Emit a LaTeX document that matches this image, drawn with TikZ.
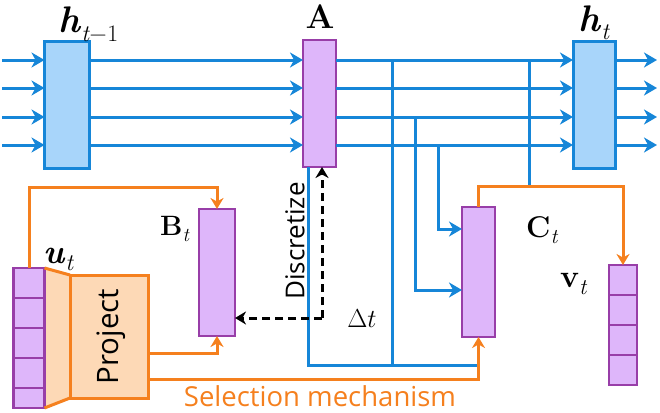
\RequirePackage{fix-cm}
\documentclass[tikz,border=0pt]{standalone}
\usepackage{amsmath}
\usepackage{amssymb}
\usepackage{fontspec}
\setsansfont{Open Sans}
\usetikzlibrary{positioning,calc,arrows.meta,backgrounds}
\definecolor{lineblue}{RGB}{22,134,216}
\definecolor{stateblue}{RGB}{168,213,250}
\definecolor{boxpurple}{RGB}{222,182,250}
\definecolor{edgepurple}{RGB}{152,62,168}
\definecolor{selorange}{RGB}{245,128,30}
\definecolor{projorange}{RGB}{253,217,182}
\newcommand{\lowsub}[2][0.7]{\raisebox{-0.22em}{\scalebox{#1}{\mdseries\itshape #2}}}
\tikzset{
	state/.style = {draw=lineblue, fill=stateblue, line width=3pt, minimum width=45pt, minimum height=126pt, inner sep=0, outer sep=0},
	param/.style = {draw=edgepurple, fill=boxpurple, line width=2.8pt, minimum width=33pt, minimum height=127pt, inner sep=0, outer sep=0},
	cell/.style = {draw=edgepurple, fill=boxpurple, line width=2.8pt, minimum width=31pt, minimum height=30pt, inner sep=0, outer sep=0},
	projbox/.style = {draw=selorange, fill=projorange, line width=3pt, minimum width=78pt, minimum height=123pt, inner sep=0, outer sep=0},
	flow/.style = {draw=lineblue, line width=3pt},
	flowarrow/.style = {flow, -{Stealth[length=13pt,width=15pt,inset=4pt]}},
	sel/.style = {draw=selorange, line width=3pt},
	selarrow/.style = {sel, -{Stealth[length=11pt,width=13pt,inset=3.5pt]}},
	disc/.style = {draw=black, line width=3pt, dash pattern=on 8pt off 5pt, -{Stealth[length=11pt,width=13pt,inset=3.5pt]}},
	mathlabel/.style = {inner sep=0},
	textlabel/.style = {font=\sffamily\fontsize{26}{30}\selectfont, inner sep=0}
}

\begin{document}
\begin{tikzpicture}[x=1pt, y=-1pt]
	\useasboundingbox (0,0) rectangle (660,412);

	% states and parameters
	\node [state] (hprev) at (67,105) {};
	\node [param] (A) at (319.5,103.5) {};
	\node [state, minimum width=42pt] (hcur) at (594,105) {};
	\node [param, minimum width=36pt] (B) at (217,272.5) {};
	\node [param, minimum height=130pt] (C) at (478.5,272) {};
	\node [projbox] (proj) at (109,336.5) {};
	\node [textlabel, font=\sffamily\fontsize{29.5}{32}\selectfont, rotate=90, yshift=-2pt] (projlbl) at (proj.center) {Project};

	% input and output vectors
	\foreach \i in {1,...,4}
		\node [cell] (u\i) at (29,253+30*\i) {};
	\node [cell, minimum height=20pt] (u5) at (29,398) {};
	\foreach \i in {1,...,4}
		\node [cell, minimum width=28pt] (v\i) at (623,250+30*\i) {};

	\begin{pgfonlayer}{background}
		\fill [projorange] (u1.north east) -- (proj.north west) -- (proj.south west) -- (u5.south east) -- cycle;
	\end{pgfonlayer}
	\draw [sel] (u1.north east) -- (proj.north west);
	\draw [sel] (u5.south east) -- (proj.south west);

	% labels
	\node [mathlabel, font=\fontsize{37}{40}\selectfont, anchor=base west] (hprevlbl) at (58,33) {\textbf{\textit{h}}\lowsub[0.64]{t\kern1pt\textup{−}\kern1pt\textup{1}}};
	\node [mathlabel, font=\fontsize{34}{36}\selectfont, anchor=base] (Albl) at (320,29) {\textbf{A}};
	\node [mathlabel, font=\fontsize{37}{40}\selectfont, anchor=base west] (hcurlbl) at (578,31) {\textbf{\textit{h}}\lowsub[0.64]{t}};
	\node [mathlabel, font=\fontsize{28}{32}\selectfont, anchor=base west] (Blbl) at (160,235) {\textbf{B}\lowsub{t}};
	\node [mathlabel, font=\fontsize{34}{36}\selectfont, anchor=base west] (ulbl) at (43,263) {\textbf{\textit{u}}\lowsub{t}};
	\node [mathlabel, font=\fontsize{30}{32}\selectfont, anchor=base west] (Clbl) at (526,237) {\textbf{C}\lowsub{t}};
	\node [mathlabel, font=\fontsize{32}{34}\selectfont, anchor=base west] (vlbl) at (560,287) {\textbf{v}\lowsub{t}};

	% recurrent state lanes
	\foreach \y [count=\r] in {60,88,117,145} {
		\coordinate (in\r) at (2,\y);
		\coordinate (out\r) at (657,\y);
		\draw [flowarrow] (in\r) -- (hprev.west |- in\r);
		\draw [flowarrow] (hprev.east |- in\r) -- (A.west |- in\r);
		\draw [flowarrow] (A.east |- in\r) -- (hcur.west |- in\r);
		\draw [flowarrow] (hcur.east |- in\r) -- (out\r);
	}

	% taps
	\coordinate (base) at (308,365);
	\coordinate (ctop) at (0,186);
	\coordinate (tap1) at (392,0);
	\coordinate (tap2) at (415,0);
	\coordinate (tap3) at (438,0);
	\coordinate (tap4) at (529,0);
	\draw [flow] ([xshift=5pt]A.south west) |- (C.south |- base);
	\draw [flow] (tap1 |- in1) -- (tap1 |- base);
	\draw [flowarrow] (tap2 |- in3) |- ([yshift=-18pt]C.west);
	\draw [flowarrow] (tap3 |- in4) |- ([yshift=43pt]C.west);
	\draw [flow] (tap4 |- in1) -- (tap4 |- ctop);

	% selection mechanism
	\coordinate (btop) at (0,187);
	\draw [selarrow] (u1.north) -- (u1.north |- btop) -- (B.north |- btop) -- (B.north);
	\draw [selarrow] ([yshift=-16.5pt]proj.east) -| (B.south);
	\draw [selarrow] ([yshift=-42.5pt]proj.east) -| (C.south);
	\draw [selarrow] (C.north) -- (C.north |- ctop) -- (v1.north |- ctop) -- (v1.north);
	\node [textlabel, font=\sffamily\fontsize{27.5}{30}\selectfont, text=selorange, anchor=base] (sellbl) at (320,406) {Selection mechanism};

	% discretization
	\coordinate (dt) at (322,318);
	\draw [disc] (dt) -- (dt |- A.south);
	\draw [disc] (dt) -- (B.east |- dt);
	\node [mathlabel, font=\fontsize{26}{30}\selectfont, anchor=base] (dtlbl) at (362,327) {$\Delta t$};
	\node [textlabel, rotate=90] (disclbl) at (295,241) {Discretize};
\end{tikzpicture}
\end{document}
